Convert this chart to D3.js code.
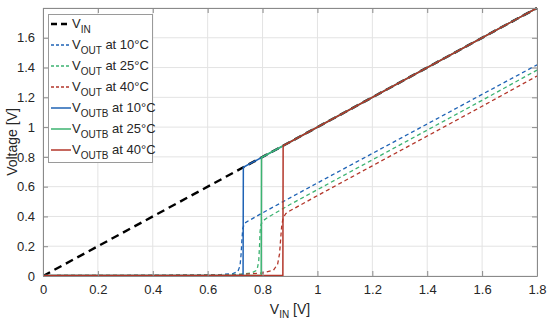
<!DOCTYPE html>
<html>
<head>
<meta charset="utf-8">
<script src="https://cdn.jsdelivr.net/npm/d3@7"></script>
<style>
  body { margin: 0; background: #fff; }
  text { font-family: "Liberation Sans", Arial, sans-serif; fill: #262626; }
</style>
</head>
<body>
<svg id="chart" width="550" height="324"></svg>
<script>
// values: [VIN, V]
var vin = [[0, 0], [1.8, 1.8]];

var vout10 = [[0, 0.003], [0.3, 0.003], [0.5, 0.005], [0.6, 0.008], [0.65, 0.01], [0.69, 0.015],
  [0.71, 0.03], [0.718, 0.07], [0.722, 0.15], [0.725, 0.25], [0.728, 0.32], [0.735, 0.355],
  [0.75, 0.372], [0.8, 0.424], [0.9, 0.525], [1.0, 0.625], [1.2, 0.823], [1.4, 1.021],
  [1.6, 1.22], [1.8, 1.418]];
var vout25 = [[0, 0.003], [0.5, 0.005], [0.65, 0.008], [0.72, 0.012], [0.76, 0.02], [0.78, 0.04],
  [0.786, 0.1], [0.789, 0.2], [0.791, 0.3], [0.795, 0.35], [0.805, 0.375], [0.82, 0.395],
  [0.9, 0.48], [1.0, 0.58], [1.2, 0.78], [1.4, 0.98], [1.6, 1.18], [1.8, 1.383]];
var vout40 = [[0, 0.003], [0.5, 0.005], [0.7, 0.008], [0.8, 0.02], [0.84, 0.04], [0.855, 0.08],
  [0.862, 0.15], [0.866, 0.25], [0.87, 0.34], [0.875, 0.39], [0.885, 0.42], [0.9, 0.438],
  [1.0, 0.54], [1.2, 0.74], [1.4, 0.94], [1.6, 1.14], [1.8, 1.343]];

var voutb10 = [[0, 0.003], [0.729, 0.003], [0.73, 0.73], [1.8, 1.8]];
var voutb25 = [[0, 0.003], [0.795, 0.003], [0.796, 0.796], [1.8, 1.8]];
var voutb40 = [[0, 0.003], [0.874, 0.003], [0.875, 0.875], [1.8, 1.8]];

var xTicks = [0, 0.2, 0.4, 0.6, 0.8, 1, 1.2, 1.4, 1.6, 1.8];
var yTicks = [0, 0.2, 0.4, 0.6, 0.8, 1, 1.2, 1.4, 1.6];

var blue = "#1f63b5", green = "#3cb371", red = "#b3362a";

var series = [
  {data: vin, color: "#000", dash: "8,5", w: 2.4, name: "V", sub: "IN", rest: ""},
  {data: vout10, color: blue, dash: "4,3", w: 1.3, name: "V", sub: "OUT", rest: " at 10°C"},
  {data: vout25, color: green, dash: "4,3", w: 1.3, name: "V", sub: "OUT", rest: " at 25°C"},
  {data: vout40, color: red, dash: "4,3", w: 1.3, name: "V", sub: "OUT", rest: " at 40°C"},
  {data: voutb10, color: blue, dash: null, w: 1.5, name: "V", sub: "OUTB", rest: " at 10°C"},
  {data: voutb25, color: green, dash: null, w: 1.5, name: "V", sub: "OUTB", rest: " at 25°C"},
  {data: voutb40, color: red, dash: null, w: 1.5, name: "V", sub: "OUTB", rest: " at 40°C"}
];

var svg = d3.select("#chart");
var m = {left: 43, right: 537, top: 8, bottom: 276};

var x = d3.scaleLinear().domain([0, 1.8]).range([m.left, m.right]);
var y = d3.scaleLinear().domain([0, 1.8]).range([m.bottom, m.top]);

// grid
svg.append("g").selectAll("line").data(xTicks).enter().append("line")
  .attr("x1", d => x(d)).attr("x2", d => x(d)).attr("y1", m.top).attr("y2", m.bottom)
  .attr("stroke", "#e3e3e3").attr("stroke-width", 1);
svg.append("g").selectAll("line").data(yTicks.concat([1.8])).enter().append("line")
  .attr("x1", m.left).attr("x2", m.right).attr("y1", d => y(d)).attr("y2", d => y(d))
  .attr("stroke", "#e3e3e3").attr("stroke-width", 1);

var line = d3.line().x(d => x(d[0])).y(d => y(d[1]));

var clip = svg.append("clipPath").attr("id", "clip").append("rect")
  .attr("x", m.left).attr("y", m.top - 2).attr("width", m.right - m.left + 2).attr("height", m.bottom - m.top + 2);

var plot = svg.append("g").attr("clip-path", "url(#clip)");
series.forEach(function(s) {
  plot.append("path").datum(s.data).attr("d", line)
    .attr("fill", "none").attr("stroke", s.color).attr("stroke-width", s.w)
    .attr("stroke-dasharray", s.dash);
});

// axes (box with inward ticks)
var axisColor = "#8a8a8a";
var xb = svg.append("g").attr("transform", "translate(0," + m.bottom + ")")
  .call(d3.axisBottom(x).tickValues(xTicks).tickSizeInner(-5).tickSizeOuter(0).tickPadding(9).tickFormat(d3.format("")));
var xt = svg.append("g").attr("transform", "translate(0," + m.top + ")")
  .call(d3.axisTop(x).tickValues(xTicks).tickSizeInner(-5).tickSizeOuter(0).tickFormat(""));
var yl = svg.append("g").attr("transform", "translate(" + m.left + ",0)")
  .call(d3.axisLeft(y).tickValues(yTicks).tickSizeInner(-5).tickSizeOuter(0).tickPadding(8).tickFormat(d3.format("")));
var yr = svg.append("g").attr("transform", "translate(" + m.right + ",0)")
  .call(d3.axisRight(y).tickValues(yTicks).tickSizeInner(-5).tickSizeOuter(0).tickFormat(""));
[xb, xt, yl, yr].forEach(function(g) {
  g.selectAll("path").attr("stroke", axisColor);
  g.selectAll("line").attr("stroke", axisColor);
  g.selectAll("text").attr("font-size", 13).attr("fill", "#262626")
    .style("font-family", '"Liberation Sans", Arial, sans-serif');
});

// axis labels
var xl = svg.append("text").attr("x", 290).attr("y", 314).attr("text-anchor", "middle").attr("font-size", 14);
xl.append("tspan").text("V");
xl.append("tspan").attr("font-size", 10).attr("dy", 4).text("IN");
xl.append("tspan").attr("dy", -4).text(" [V]");

svg.append("text").attr("transform", "translate(17,142) rotate(-90)")
  .attr("text-anchor", "middle").attr("font-size", 14).text("Voltage [V]");

// legend
var lg = svg.append("g");
lg.append("rect").attr("x", 48.5).attr("y", 14.5).attr("width", 104).attr("height", 148)
  .attr("fill", "#fff").attr("stroke", "#9a9a9a").attr("stroke-width", 1);
series.forEach(function(s, i) {
  var yy = 24 + i * 21;
  lg.append("line").attr("x1", 51).attr("x2", 71).attr("y1", yy).attr("y2", yy)
    .attr("stroke", s.color).attr("stroke-width", s.w).attr("stroke-dasharray", i === 0 ? "6,4" : (s.dash ? "3,2" : null));
  var t = lg.append("text").attr("x", 72).attr("y", yy + 4).attr("font-size", 13);
  t.append("tspan").text(s.name);
  t.append("tspan").attr("font-size", 10).attr("dy", 5).text(s.sub);
  t.append("tspan").attr("dy", -5).text(s.rest);
});
</script>
</body>
</html>
